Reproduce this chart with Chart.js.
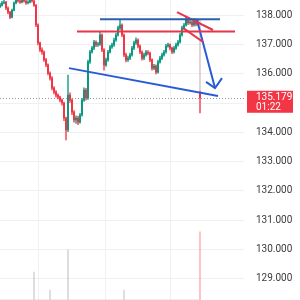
<!DOCTYPE html>
<html>
<head>
<meta charset="utf-8">
<script src="https://cdn.jsdelivr.net/npm/chart.js@4.4.1/dist/chart.umd.min.js"></script>
<style>
  html, body { margin: 0; padding: 0; background: #fff; }
  #wrap { width: 300px; height: 300px; }
</style>
</head>
<body>
<div id="wrap"><canvas id="chart"></canvas></div>
<script>
// candles (one per slot, open = previous close)
const closes = [
  138.34, 138.41, 138.44, 138.24, 138.10, 137.93, 138.17, 138.41, 138.51, 138.48,
  138.44, 138.51, 138.48, 138.41, 138.44, 138.51, 138.48, 138.34, 137.66, 137.05,
  136.81, 136.74, 136.47, 136.30, 136.02, 135.85, 135.51, 135.37, 135.27, 135.20,
  135.10, 135.00, 134.49, 134.08, 135.27, 135.10, 134.69, 134.42, 134.49, 134.35,
  134.59, 135.10, 135.44, 135.17, 136.40, 136.74, 136.87, 137.08, 136.98, 137.01,
  137.32, 136.81, 136.30, 136.47, 136.74, 136.91, 136.98, 137.15, 137.32, 137.56,
  137.66, 137.32, 136.64, 136.47, 136.53, 136.64, 136.87, 137.05, 137.15, 136.94,
  136.74, 136.53, 136.64, 136.74, 136.70, 136.47, 136.19, 136.26, 136.05, 136.40,
  136.53, 136.64, 136.74, 136.94, 136.98, 136.87, 136.74, 136.87, 136.98, 137.08,
  137.32, 137.56, 137.66, 137.83, 137.73, 137.76, 137.66, 137.83, 137.69, 137.76,
  135.179
];
const highs = [
  138.40, 138.47, 138.52, 138.47, 138.28, 138.13, 138.20, 138.45, 138.58, 138.56,
  138.52, 138.58, 138.55, 138.50, 138.49, 138.57, 138.55, 138.50, 138.36, 137.70,
  137.08, 136.88, 136.78, 136.52, 136.34, 136.06, 135.90, 135.56, 135.42, 135.31,
  135.24, 135.14, 135.03, 134.52, 135.95, 135.35, 135.14, 134.74, 134.56, 134.55,
  134.65, 135.16, 135.52, 135.50, 136.46, 136.80, 136.93, 137.14, 137.12, 137.07,
  137.42, 137.36, 136.86, 136.53, 136.80, 136.97, 137.04, 137.21, 137.38, 137.62,
  137.83, 137.70, 137.36, 136.70, 136.60, 136.70, 136.93, 137.11, 137.22, 137.19,
  136.98, 136.78, 136.70, 136.80, 136.79, 136.74, 136.51, 136.32, 136.30, 136.46,
  136.59, 136.70, 136.80, 137.00, 137.04, 137.02, 136.91, 136.93, 137.04, 137.14,
  137.38, 137.62, 137.72, 137.92, 137.87, 137.82, 137.80, 137.89, 137.86, 137.82,
  135.40
];
const lows = [
  138.25, 138.30, 138.38, 138.18, 138.04, 137.88, 137.90, 138.14, 138.38, 138.44,
  138.40, 138.41, 138.44, 138.36, 138.38, 138.41, 138.44, 138.29, 137.60, 136.98,
  136.75, 136.66, 136.42, 136.24, 135.96, 135.78, 135.45, 135.31, 135.20, 135.14,
  135.04, 134.93, 134.40, 133.74, 134.02, 135.02, 134.60, 134.35, 134.30, 134.26,
  134.31, 134.55, 135.05, 135.10, 135.12, 136.35, 136.70, 136.82, 136.92, 136.93,
  136.96, 136.75, 136.12, 136.25, 136.42, 136.70, 136.86, 136.93, 137.10, 137.28,
  137.50, 137.26, 136.58, 136.40, 136.42, 136.48, 136.60, 136.82, 137.00, 136.88,
  136.68, 136.46, 136.48, 136.60, 136.64, 136.41, 136.12, 136.14, 135.99, 136.02,
  136.36, 136.48, 136.60, 136.70, 136.90, 136.81, 136.68, 136.70, 136.83, 136.94,
  137.04, 137.28, 137.52, 137.62, 137.67, 137.69, 137.60, 137.62, 137.63, 137.65,
  134.66
];
const firstOpen = 138.28;
const lastOpen = 135.34;
const lastTrail = [135.34, 137.85];
const volumes = [
  0, 0, 0, 0, 0, 0, 0, 0, 0, 0,
  0, 0, 0, 0, 0, 0, 0, 9.3, 0, 0,
  0, 0, 0, 0, 0, 3.3, 0, 0, 0, 0,
  0, 0, 0, 0, 16.7, 0, 0, 0, 0, 0,
  0, 0, 0, 0, 0, 0, 0, 0, 0, 0,
  0, 0, 0, 0, 0, 0, 0, 0, 0, 0,
  0, 0, 3.3, 0, 0, 0, 0, 0, 0, 0,
  0, 0, 0, 0, 0, 0, 0, 0, 0, 0,
  0, 0, 0, 0, 0, 0, 0, 0, 0, 0,
  0, 0, 0, 0, 0, 0, 0, 0, 0, 0,
  22.7
];
const priceTicks = [129, 130, 131, 132, 133, 134, 135, 136, 137, 138];
const timeGrid = [19, 52.5, 85];
const lastPrice = 135.179;
const countdown = '01:22';

// hand drawn lines, [slot, price]
const topLine = [[50, 137.86], [110, 137.86]];
const resistLine = [[38.5, 137.44], [117.5, 137.44]];
const supportLine = [[34.5, 136.19], [109, 135.24]];
const wedgeUpper = [[88.5, 138.10], [106.5, 137.49]];
const wedgeLower = [[91.5, 137.56], [101.5, 137.08]];
const arrowShaft = [[98.5, 137.83], [107.5, 135.51]];
const arrowHead = [[103, 135.72], [107.5, 135.51], [111, 135.85]];

const GREEN = '#089981';
const RED = '#f23645';
const BLUE = '#2a5bd7';

const opens = closes.map((c, i) => i === 0 ? firstOpen : (i === closes.length - 1 ? lastOpen : closes[i - 1]));
const colors = closes.map((c, i) => c >= opens[i] ? GREEN : RED);
const pts = arr => arr.map(p => ({ x: p[0], y: p[1] }));

function lineSet(arr, color) {
  return {
    type: 'line', data: pts(arr), borderColor: color, borderWidth: 2,
    pointRadius: 0, tension: 0, order: 1, yAxisID: 'y'
  };
}

const priceTag = {
  id: 'priceTag',
  beforeDatasetsDraw(chart) {
    const { ctx, chartArea } = chart;
    const y = chart.scales.y.getPixelForValue(lastPrice);
    ctx.save();
    ctx.strokeStyle = '#9598a1';
    ctx.lineWidth = 1;
    ctx.setLineDash([1, 2]);
    ctx.beginPath();
    ctx.moveTo(chartArea.left, Math.round(y) + 0.5);
    ctx.lineTo(chartArea.right, Math.round(y) + 0.5);
    ctx.stroke();
    ctx.restore();
  },
  afterDraw(chart) {
    const { ctx, chartArea } = chart;
    const y = chart.scales.y.getPixelForValue(lastPrice);
    ctx.save();
    ctx.fillStyle = RED;
    ctx.fillRect(chartArea.right + 3, y - 7, 46, 22);
    ctx.fillStyle = '#ffffff';
    ctx.font = '10px Roboto';
    ctx.textBaseline = 'middle';
    ctx.textAlign = 'left';
    ctx.fillText(lastPrice.toFixed(3), chartArea.right + 12, y - 0.5);
    ctx.fillText(countdown, chartArea.right + 12, y + 9.5);
    ctx.restore();
  }
};

new Chart(document.getElementById('chart'), {
  data: {
    datasets: [
      lineSet(topLine, '#2b5fb4'),
      lineSet(resistLine, '#e8344a'),
      lineSet(supportLine, BLUE),
      lineSet(wedgeUpper, '#e8344a'),
      lineSet(wedgeLower, '#e8344a'),
      lineSet(arrowShaft, BLUE),
      lineSet(arrowHead, BLUE),
      {
        type: 'bar', order: 2, yAxisID: 'y', grouped: false, barThickness: 1.3,
        data: closes.map((c, i) => ({ x: i, y: [opens[i], c] })),
        backgroundColor: colors
      },
      {
        type: 'bar', order: 2, yAxisID: 'y', grouped: false, barThickness: 0.7,
        data: closes.map((c, i) => ({ x: i, y: [lows[i], highs[i]] })),
        backgroundColor: colors
      },
      {
        type: 'bar', order: 2, yAxisID: 'y', grouped: false, barThickness: 1,
        data: [{ x: closes.length - 1, y: lastTrail }],
        backgroundColor: 'rgba(200,170,170,0.6)'
      },
      {
        type: 'bar', order: 3, yAxisID: 'yv', grouped: false, barThickness: 1,
        data: volumes.map((v, i) => ({ x: i, y: v })),
        backgroundColor: volumes.map((v, i) => i === volumes.length - 1 ? 'rgba(242,54,69,0.35)' : 'rgba(120,123,134,0.3)')
      }
    ]
  },
  options: {
    responsive: true,
    maintainAspectRatio: false,
    animation: false,
    layout: { padding: 0 },
    plugins: { legend: { display: false }, tooltip: { enabled: false } },
    scales: {
      x: {
        type: 'linear', min: 0, max: 122, offset: false,
        afterBuildTicks: s => { s.ticks = timeGrid.map(v => ({ value: v })); },
        afterFit: s => { s.height = 0; },
        ticks: { display: false },
        border: { display: false },
        grid: { color: '#f0f0f2', drawTicks: false, offset: false }
      },
      y: {
        position: 'right', min: 128.284, max: 138.511,
        afterBuildTicks: s => { s.ticks = priceTicks.map(v => ({ value: v })); },
        afterFit: s => { s.width = 56; },
        ticks: {
          padding: 0, color: '#3a3a3a', font: { family: 'Roboto', size: 10, lineHeight: 0.01 },
          callback: v => v.toFixed(3)
        },
        border: { display: false },
        grid: { color: '#eff0f2', drawTicks: true, tickLength: 12, tickColor: 'rgba(0,0,0,0)' }
      },
      yv: { display: false, min: 0, max: 100 }
    }
  },
  plugins: [priceTag]
});
</script>
</body>
</html>
